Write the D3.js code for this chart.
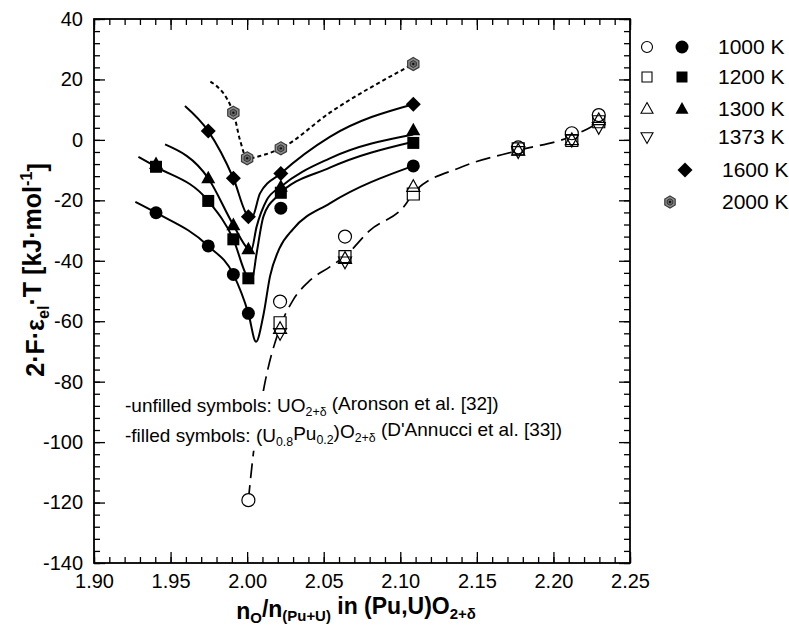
<!DOCTYPE html>
<html>
<meta charset="utf-8">
<style>
 body { margin: 0; background: #fff; }
 text { font-family: Arial, "Liberation Sans", sans-serif; fill: #000; }
 .axis_title { font-size: 23px; font-weight: bold; }
 .note_text { font-size: 19px; }
 .legend_text { font-size: 21px; }
</style>
<body>
<script src="https://d3js.org/d3.v7.min.js"></script>
<script>

// ---- data ----
var xTicks = [1.90, 1.95, 2.00, 2.05, 2.10, 2.15, 2.20, 2.25];
var yTicks = [-140, -120, -100, -80, -60, -40, -20, 0, 20, 40];

// filled symbols: (U0.8Pu0.2)O2+d, D'Annucci et al.
var filled1000 = [[1.9405,-24.1],[1.9746,-35.1],[1.991,-44.5],[2.0008,-57.4],[2.022,-22.6],[2.1085,-8.6]];
var filled1300 = [[1.9405,-8.0],[1.9746,-12.7],[1.991,-28.2],[2.0008,-36.2],[2.022,-15.5],[2.1085,3.2]];
var filled1200 = [[1.9405,-8.9],[1.9746,-20.2],[1.991,-32.9],[2.0008,-45.8],[2.022,-17.5],[2.1085,-1.0]];
var filled1600 = [[1.9746,2.9],[1.991,-12.7],[2.0008,-25.4],[2.022,-11.1],[2.1085,11.8]];
var filled2000 = [[1.991,9.0],[2.000,-6.1],[2.022,-2.8],[2.1085,25.1]];

// unfilled symbols: UO2+d, Aronson et al.
var open1000 = [[2.0008,-119.2],[2.0215,-53.5],[2.0639,-32.0],[2.177,-2.5],[2.212,2.2],[2.2296,8.2]];
var open1200 = [[2.0215,-60.5],[2.0639,-38.6],[2.1085,-17.9],[2.177,-3.0],[2.212,-0.2],[2.2296,6.0]];
var open1300 = [[2.0215,-62.5],[2.0639,-39.3],[2.1085,-15.5],[2.177,-3.5],[2.212,0.0],[2.2296,6.6]];
var open1373 = [[2.0215,-64.0],[2.0639,-40.3],[2.177,-3.8],[2.212,0.0],[2.2296,4.2]];

// fitted curves
var fit1000 = [[1.927,-20.5],[1.9405,-24.1],[1.9746,-35.1],[1.991,-44.5],[2.0008,-57.4],[2.0058,-66.8],[2.0106,-58],[2.015,-45],[2.021,-36],[2.030,-29.5],[2.054,-21.0],[2.1085,-8.6]];
var fit1200 = [[1.929,-5.6],[1.9405,-8.9],[1.9746,-20.2],[1.991,-32.9],[2.0008,-45.8],[2.003,-46.5],[2.0062,-37.5],[2.0106,-25.4],[2.0193,-18.8],[2.054,-9.2],[2.1085,-0.6]];
var fit1300 = [[1.9464,-1.5],[1.9746,-12.7],[1.991,-28.2],[2.0008,-36.2],[2.0025,-36.8],[2.0062,-28.7],[2.0128,-19.9],[2.022,-15.5],[2.054,-6.1],[2.1085,1.8]];
var fit1600 = [[1.9594,11.2],[1.9746,2.9],[1.991,-12.7],[2.0008,-25.4],[2.003,-25.8],[2.0084,-17.7],[2.022,-11.1],[2.054,1.0],[2.1085,11.8]];
var fit2000 = [[1.976,19.3],[1.991,9.0],[1.9953,0.0],[2.000,-6.1],[2.0106,-5.0],[2.022,-2.8],[2.054,9.0],[2.1085,25.1]];
var fitAronson = [[2.0008,-119.2],[2.004,-104],[2.0106,-83],[2.0215,-62],[2.030,-53],[2.040,-47],[2.054,-42],[2.0639,-38.5],[2.080,-30],[2.104,-21],[2.1085,-17.5],[2.140,-9],[2.177,-3.5],[2.212,1.2],[2.229,5.5]];

var legendLabels = ["1000 K", "1200 K", "1300 K", "1373 K", "1600 K", "2000 K"];

// ---- layout ----
var width = 789, height = 632;
var margin = {top: 19, right: 159, bottom: 69, left: 94};
var pw = width - margin.left - margin.right,
    ph = height - margin.top - margin.bottom;

var svg = d3.select("body").append("svg")
  .attr("width", width)
  .attr("height", height);

var g = svg.append("g").attr("transform", "translate(" + margin.left + "," + margin.top + ")");

var x = d3.scaleLinear().domain([1.90, 2.25]).range([0, pw]);
var y = d3.scaleLinear().domain([-140, 40]).range([ph, 0]);

var xMinor = d3.range(0, 36).map(function (i) { return 1.90 + i * 0.01; });
var yMinor = d3.range(0, 46).map(function (i) { return -140 + i * 4; });

function styleAxis(sel) {
  sel.select(".domain").remove();
  sel.selectAll("line").attr("stroke", "#000").attr("stroke-width", 1.3);
}

// bottom
g.append("g").attr("transform", "translate(0," + ph + ")")
  .call(d3.axisBottom(x).tickValues(xMinor).tickSize(-6).tickFormat(""))
  .call(styleAxis);
g.append("g").attr("transform", "translate(0," + ph + ")")
  .call(d3.axisBottom(x).tickValues(xTicks).tickSize(-11).tickPadding(11).tickFormat(d3.format(".2f")))
  .call(styleAxis);
// top
g.append("g")
  .call(d3.axisTop(x).tickValues(xMinor).tickSize(-6).tickFormat(""))
  .call(styleAxis);
g.append("g")
  .call(d3.axisTop(x).tickValues(xTicks).tickSize(-11).tickFormat(""))
  .call(styleAxis);
// left
g.append("g")
  .call(d3.axisLeft(y).tickValues(yMinor).tickSize(-6).tickFormat(""))
  .call(styleAxis);
g.append("g")
  .call(d3.axisLeft(y).tickValues(yTicks).tickSize(-11).tickPadding(11)
    .tickFormat(function (d) { return String(d); }))
  .call(styleAxis);
// right
g.append("g").attr("transform", "translate(" + pw + ",0)")
  .call(d3.axisRight(y).tickValues(yMinor).tickSize(-6).tickFormat(""))
  .call(styleAxis);
g.append("g").attr("transform", "translate(" + pw + ",0)")
  .call(d3.axisRight(y).tickValues(yTicks).tickSize(-11).tickFormat(""))
  .call(styleAxis);

g.selectAll(".tick text").style("font-size", "20px").style("font-family", "Arial, 'Liberation Sans', sans-serif").attr("fill", "#000");

g.append("rect")
  .attr("width", pw).attr("height", ph)
  .attr("fill", "none").attr("stroke", "#000").attr("stroke-width", 1.8);

// ---- curves ----
var line = d3.line()
  .x(function (d) { return x(d[0]); })
  .y(function (d) { return y(d[1]); })
  .curve(d3.curveMonotoneX);

[fit1000, fit1200, fit1300, fit1600].forEach(function (f) {
  g.append("path").datum(f).attr("d", line)
    .attr("fill", "none").attr("stroke", "#000").attr("stroke-width", 2);
});
g.append("path").datum(fit2000).attr("d", line)
  .attr("fill", "none").attr("stroke", "#000").attr("stroke-width", 2)
  .attr("stroke-dasharray", "4,3");
g.append("path").datum(fitAronson).attr("d", line)
  .attr("fill", "none").attr("stroke", "#000").attr("stroke-width", 1.7)
  .attr("stroke-dasharray", "15,7");

// ---- symbols ----
function shape(type, s) {
  var p, r = s / 2;
  if (type === "circle") return d3.symbol(d3.symbolCircle, Math.PI * r * r)();
  if (type === "square") return "M" + (-r) + "," + (-r) + "h" + s + "v" + s + "h" + (-s) + "Z";
  if (type === "up") {
    var h = s * 0.9;
    return "M0," + (-h * 0.6) + "L" + r + "," + (h * 0.4) + "L" + (-r) + "," + (h * 0.4) + "Z";
  }
  if (type === "down") {
    var h2 = s * 0.9;
    return "M0," + (h2 * 0.6) + "L" + r + "," + (-h2 * 0.4) + "L" + (-r) + "," + (-h2 * 0.4) + "Z";
  }
  if (type === "diamond") return "M0," + (-r) + "L" + r + ",0L0," + r + "L" + (-r) + ",0Z";
  if (type === "hex") {
    p = d3.range(6).map(function (i) {
      var a = Math.PI / 3 * i;
      return [r * Math.sin(a), -r * Math.cos(a)];
    });
    return "M" + p.join("L") + "Z";
  }
}

function drawHex(sel, s) {
  sel.append("path").attr("d", shape("hex", s))
    .attr("fill", "#8e8e8e").attr("stroke", "#3a3a3a").attr("stroke-width", 1.2);
  sel.append("path").attr("d", shape("hex", s * 0.55))
    .attr("fill", "#6a6a6a").attr("stroke", "#222").attr("stroke-width", 0.8);
  sel.append("circle").attr("r", 1.2).attr("fill", "#111");
}

function filledMarks(data, type, s) {
  g.append("g").selectAll("path").data(data).enter().append("path")
    .attr("transform", function (d) { return "translate(" + x(d[0]) + "," + y(d[1]) + ")"; })
    .attr("d", shape(type, s))
    .attr("fill", "#000");
}

function openMarks(data, type, s, layer) {
  g.append("g").selectAll("path").data(data).enter().append("path")
    .attr("transform", function (d) { return "translate(" + x(d[0]) + "," + y(d[1]) + ")"; })
    .attr("d", shape(type, s))
    .attr("fill", layer === "bg" ? "#fff" : "none")
    .attr("stroke", layer === "bg" ? "none" : "#000")
    .attr("stroke-width", 1.2);
}

// ---- rich text helper (sub / superscripts) ----
function rich(t, parts, small) {
  var cur = 0;
  parts.forEach(function (p) {
    var want = p[1] === 1 ? 0.3 : (p[1] === -1 ? -0.55 : 0);
    var ts = t.append("tspan").text(p[0]);
    ts.attr("dy", (want - cur) + "em");
    if (p[1] !== 0) ts.style("font-size", small || "65%");
    cur = want;
  });
}

// notes (white box behind them hides the dashed line, as in the original)
var notes = g.append("g");
var n1 = notes.append("text").attr("class", "note_text").attr("x", 125 - margin.left).attr("y", 412 - margin.top);
rich(n1, [["-unfilled symbols: UO", 0], ["2+δ", 1], [" (Aronson et al. [32])", 0]]);
var n2 = notes.append("text").attr("class", "note_text").attr("x", 125 - margin.left).attr("y", 442 - margin.top);
rich(n2, [["-filled symbols: (U", 0], ["0.8", 1], ["Pu", 0], ["0.2", 1], [")O", 0], ["2+δ", 1], [" (D'Annucci et al. [33])", 0]]);
var bb = notes.node().getBBox();
notes.insert("rect", "text")
  .attr("x", bb.x - 2).attr("y", bb.y - 2)
  .attr("width", bb.width + 4).attr("height", bb.height + 4)
  .attr("fill", "#fff");

var openSets = [[open1000, "circle", 13], [open1200, "square", 12], [open1300, "up", 13], [open1373, "down", 13]];
openSets.forEach(function (o) { openMarks(o[0], o[1], o[2], "bg"); });
openSets.forEach(function (o) { openMarks(o[0], o[1], o[2], "fg"); });

filledMarks(filled1000, "circle", 13);
filledMarks(filled1300, "up", 14);
filledMarks(filled1200, "square", 12);
filledMarks(filled1600, "diamond", 15);

g.append("g").selectAll("g").data(filled2000).enter().append("g")
  .attr("transform", function (d) { return "translate(" + x(d[0]) + "," + y(d[1]) + ")"; })
  .each(function () { drawHex(d3.select(this), 13); });

// axis titles
var xt = svg.append("text").attr("class", "axis_title")
  .attr("x", margin.left + pw / 2 - 6).attr("y", 619).attr("text-anchor", "middle");
rich(xt, [["n", 0], ["O", 1], ["/n", 0], ["(Pu+U)", 1], [" in (Pu,U)O", 0], ["2+δ", 1]]);

var yt = svg.append("text").attr("class", "axis_title")
  .attr("transform", "translate(44,270) rotate(-90)").attr("text-anchor", "middle")
  .style("font-size", "25px");
rich(yt, [["2·F·ε", 0], ["el", 1], ["·T [kJ·mol", 0], ["-1", -1], ["]", 0]]);

// ---- legend ----
var legY = [47, 77, 109, 137, 170, 202];
var leg = svg.append("g");
var openLeg = [["circle", 11], ["square", 10], ["up", 12], ["down", 12]];
openLeg.forEach(function (o, i) {
  leg.append("path").attr("transform", "translate(647," + legY[i] + ")")
    .attr("d", shape(o[0], o[1])).attr("fill", "#fff").attr("stroke", "#000").attr("stroke-width", 1.1);
});
var fillLeg = [["circle", 13], ["square", 11], ["up", 13]];
fillLeg.forEach(function (o, i) {
  leg.append("path").attr("transform", "translate(682," + legY[i] + ")")
    .attr("d", shape(o[0], o[1])).attr("fill", "#000");
});
leg.append("path").attr("transform", "translate(685," + legY[4] + ")")
  .attr("d", shape("diamond", 15)).attr("fill", "#000");
drawHex(leg.append("g").attr("transform", "translate(670," + legY[5] + ")"), 12);

leg.selectAll("text.legend_text").data(legendLabels).enter().append("text")
  .attr("class", "legend_text")
  .attr("x", function (d, i) { return i < 4 ? 718 : 722; })
  .attr("y", function (d, i) { return legY[i] + 7; })
  .text(function (d) { return d; });

</script>
</body>
</html>
